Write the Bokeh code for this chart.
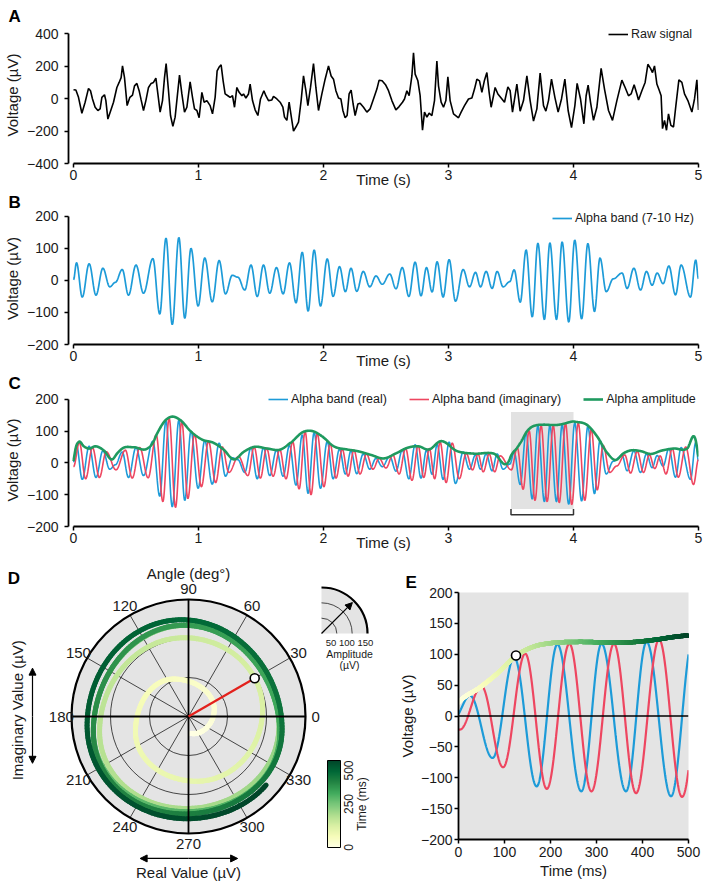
import numpy as np
from bokeh.plotting import figure
from bokeh.layouts import column, row
from bokeh.models import (Range1d, FixedTicker, Legend, LegendItem, Span, Title,
                          LinearColorMapper, Arrow, NormalHead, ColumnDataSource)
from bokeh.transform import linear_cmap
from bokeh.palettes import YlGn9
from bokeh.embed import file_html
from bokeh.resources import INLINE
from bokeh.core.properties import value

FONT = "Liberation Sans"
BLUE = "#1d9bd8"
RED = "#ee4660"
GREEN = "#1f9a5f"
GRAY = "#e4e4e4"
INK = "#1a1a1a"

# ---------------- data ----------------
time_ticks = [0, 1, 2, 3, 4, 5]
raw_ticks = [-400, -200, 0, 200, 400]
band_ticks = [-200, -100, 0, 100, 200]
zoom_ticks_ms = [0, 100, 200, 300, 400, 500]
zoom_ticks_uv = [-200, -150, -100, -50, 0, 50, 100, 150, 200]
zoom_window = [3.5, 4.0]          # seconds, highlighted in C and shown in D/E

raw_t = [0.0, 0.019, 0.04, 0.067, 0.093, 0.12, 0.136, 0.152, 0.173, 0.195, 0.213, 0.227, 0.248, 0.259,
         0.275, 0.296, 0.32, 0.347, 0.365, 0.381, 0.392, 0.408, 0.429, 0.451, 0.472, 0.488, 0.507,
         0.525, 0.541, 0.56, 0.579, 0.6, 0.621, 0.64, 0.659, 0.675, 0.693, 0.712, 0.728, 0.741, 0.76,
         0.776, 0.795, 0.813, 0.835, 0.848, 0.867, 0.888, 0.907, 0.933, 0.952, 0.968, 0.987, 1.005,
         1.027, 1.045, 1.067, 1.093, 1.112, 1.133, 1.149, 1.165, 1.181, 1.197, 1.213, 1.235, 1.253,
         1.272, 1.288, 1.307, 1.325, 1.347, 1.36, 1.379, 1.4, 1.413, 1.432, 1.453, 1.475, 1.496,
         1.523, 1.539, 1.56, 1.587, 1.6, 1.627, 1.653, 1.675, 1.688, 1.707, 1.725, 1.741, 1.76,
         1.779, 1.8, 1.821, 1.84, 1.859, 1.875, 1.896, 1.92, 1.939, 1.96, 1.987, 2.013, 2.04, 2.061,
         2.08, 2.099, 2.12, 2.139, 2.155, 2.173, 2.189, 2.205, 2.221, 2.237, 2.253, 2.275, 2.293,
         2.32, 2.347, 2.373, 2.4, 2.427, 2.445, 2.469, 2.496, 2.52, 2.547, 2.579, 2.605, 2.632,
         2.648, 2.667, 2.685, 2.707, 2.72, 2.733, 2.755, 2.773, 2.792, 2.808, 2.827, 2.845, 2.867,
         2.888, 2.907, 2.92, 2.941, 2.96, 2.979, 2.995, 3.013, 3.04, 3.08, 3.101, 3.128, 3.16,
         3.187, 3.208, 3.227, 3.248, 3.267, 3.288, 3.307, 3.325, 3.341, 3.36, 3.373, 3.395, 3.421,
         3.448, 3.475, 3.493, 3.512, 3.547, 3.573, 3.6, 3.627, 3.653, 3.68, 3.707, 3.733, 3.76,
         3.779, 3.8, 3.824, 3.851, 3.877, 3.904, 3.931, 3.957, 3.984, 4.011, 4.029, 4.056, 4.083,
         4.101, 4.117, 4.136, 4.16, 4.187, 4.221, 4.248, 4.28, 4.312, 4.347, 4.387, 4.413, 4.44,
         4.461, 4.485, 4.507, 4.52, 4.547, 4.573, 4.595, 4.616, 4.632, 4.648, 4.667, 4.685, 4.701,
         4.712, 4.728, 4.744, 4.76, 4.779, 4.8, 4.819, 4.843, 4.867, 4.888, 4.915, 4.947, 4.968,
         4.987, 5.0]
raw_v = [55, 53, 8, -90, -22, 63, 49, -2, -53, -73, -63, 8, 24, -12,
         -126, -77, -22, 69, 100, 130, 202, 130, -43, 8, 22, 79, 94,
         49, -8, -73, -12, 69, 94, 100, 126, 29, -83, -12, 130, 216, 49,
         -104, -171, -114, 49, 145, 29, -83, -53, 104, 8, -63, -73, -118,
         39, -22, -12, -43, -94, 8, 171, 195, 208, 110, 29, 18, 8,
         18, -53, 69, 39, 18, 29, 4, 29, 90, -12, -69, -104, -2,
         49, 18, -12, -8, 14, -2, -22, -53, -114, -134, -22, -104, -200,
         -175, -145, -12, 140, 49, -43, 69, 216, 69, -73, 29, 120, 202, 140,
         120, 49, 4, -2, -73, -118, -104, 29, 53, -33, -104, -33, -28,
         -53, -83, -63, -2, 59, 114, 110, 86, 49, -12, -69, -49, -22,
         -2, 49, 18, 140, 283, 151, 110, 18, -195, -83, -114, -90, -104,
         -12, 232, 79, -22, -53, -12, 134, -12, -94, -118, -83, -43, -2,
         4, 59, 120, 110, 39, 114, 161, 39, -53, 18, 69, 29, 4,
         -22, 73, 49, -83, 90, -77, -12, 140, -12, -138, -63, 157, -43,
         -77, -12, 120, 8, -83, -2, 120, -73, -179, -43, 94, -2, -155,
         18, 83, -22, -134, -53, 187, 59, -73, -134, -12, 114, 69, 18,
         29, 86, 29, -8, 49, 100, 212, 187, 161, 202, 90, 53, 18,
         -185, -134, -195, -94, -165, -175, -43, 116, 100, 29, -12, -83, -2,
         116, -70]

# alpha band (real part): successive turning points of the blue trace
alpha_real_t = [0.0, 0.024, 0.07, 0.125, 0.18, 0.235, 0.29, 0.335, 0.39, 0.44, 0.5, 0.56, 0.635,
                0.69, 0.74, 0.79, 0.843, 0.89, 0.94, 0.997, 1.05, 1.11, 1.165, 1.216, 1.27, 1.315,
                1.37, 1.42, 1.47, 1.52, 1.57, 1.624, 1.677, 1.728, 1.78, 1.83, 1.877, 1.925, 1.976,
                2.03, 2.077, 2.128, 2.175, 2.22, 2.266, 2.318, 2.37, 2.42, 2.47, 2.53, 2.58, 2.63,
                2.683, 2.733, 2.78, 2.824, 2.869, 2.909, 2.957, 3.005, 3.056, 3.117, 3.168, 3.216,
                3.256, 3.301, 3.349, 3.389, 3.437, 3.49, 3.525, 3.574, 3.621, 3.67, 3.715, 3.767,
                3.811, 3.864, 3.909, 3.962, 4.01, 4.065, 4.115, 4.168, 4.212, 4.262, 4.318, 4.389,
                4.429, 4.483, 4.536, 4.584, 4.629, 4.669, 4.717, 4.763, 4.816, 4.861, 4.936, 4.978,
                5.0]
alpha_real_v = [2, 55, -52, 52, -46, 38, -20, -6, 34, -46, 48, -40, 68,
                -105, 132, -138, 134, -118, 100, -80, 70, -67, 62, -42, 16, 10,
                -30, 48, -50, 48, -40, 40, -42, 55, -70, 88, -96, 95, -80,
                67, -50, 43, -35, 38, -34, 28, -20, 14, -12, 20, -26, 40,
                -50, 57, -48, 40, -36, 58, -52, 65, -65, 34, -20, 25,
                -20, 28, -25, 28, -20, -4, 33, -68, 95, -114, 116, -122,
                117, -122, 120, -130, 126, -120, 115, -97, 70, -35, 5, 23,
                -25, 38, -30, 28, -15, 23, -10, 45, -45, 48, -52, 64,
                5]

# alpha band (imaginary part): successive turning points of the red trace
alpha_imag_t = [0.0, 0.047, 0.097, 0.152, 0.207, 0.262, 0.34, 0.415, 0.47, 0.53, 0.597, 0.662,
                0.715, 0.765, 0.816, 0.866, 0.915, 0.968, 1.023, 1.08, 1.137, 1.19, 1.243, 1.32,
                1.395, 1.445, 1.495, 1.545, 1.597, 1.65, 1.7, 1.754, 1.805, 1.853, 1.9, 1.95,
                2.003, 2.053, 2.1, 2.15, 2.197, 2.243, 2.292, 2.344, 2.395, 2.445, 2.5, 2.555,
                2.605, 2.657, 2.708, 2.757, 2.802, 2.847, 2.889, 2.933, 2.981, 3.03, 3.086, 3.142,
                3.192, 3.236, 3.278, 3.325, 3.369, 3.413, 3.503, 3.55, 3.597, 3.645, 3.692, 3.741,
                3.789, 3.838, 3.886, 3.936, 3.986, 4.038, 4.09, 4.142, 4.19, 4.237, 4.29, 4.345,
                4.41, 4.456, 4.51, 4.56, 4.607, 4.65, 4.693, 4.74, 4.79, 4.838, 4.898, 4.96, 5.0]
alpha_imag_v = [-12, 64, -50, 48, -46, 35, -22, 40, -48, 48, -47, 88,
                -122, 140, -140, 130, -112, 90, -75, 68, -62, 50, -30, 20,
                -40, 50, -48, 46, -42, 42, -50, 66, -82, 98, -100, 92,
                -75, 60, -48, 43, -42, 40, -35, 28, -20, 14, -16, 25,
                -35, 45, -55, 54, -46, 45, -50, 65, -62, 62, -50, 30,
                -22, 28, -28, 28, -28, 22, -22, 48, -83, 101, -118, 117,
                -122, 117, -125, 124, -131, 125, -118, 105, -85, 55, -30, -10,
                25, -32, 36, -30, 25, -18, 22, -35, 45, -45, 50, -68, 10]

# alpha amplitude (green envelope)
amp_t = [0.0, 0.02, 0.043, 0.083, 0.12, 0.176, 0.243, 0.31, 0.35, 0.39, 0.483, 0.59, 0.63, 0.67,
         0.736, 0.784, 0.856, 0.936, 1.03, 1.12, 1.2, 1.283, 1.363, 1.443, 1.55, 1.656, 1.736,
         1.843, 1.91, 1.99, 2.083, 2.19, 2.27, 2.38, 2.483, 2.58, 2.669, 2.76, 2.843, 2.936,
         3.069, 3.203, 3.363, 3.483, 3.5, 3.548, 3.583, 3.626, 3.666, 3.701, 3.757, 3.827, 3.862,
         3.933, 3.968, 4.0, 4.016, 4.109, 4.189, 4.269, 4.336, 4.4, 4.456, 4.536, 4.62, 4.7,
         4.803, 4.909, 4.976, 5.0]
amp_v = [6, 50, 66, 52, 45, 52, 39, 11, 30, 45, 49, 45, 60, 93,
         134, 145, 134, 100, 73, 63, 42, 11, 35, 50, 45, 42, 63,
         98, 100, 83, 52, 42, 37, 25, 14, 30, 47, 52, 42, 68,
         37, 29, 29, 6, 22, 47, 68, 98, 113, 118, 120, 119, 119,
         124, 128, 130, 129, 119, 83, 32, 9, 30, 39, 37, 28, 38,
         45, 45, 73, 20]

angle_ticks = [0, 30, 60, 90, 120, 150, 180, 210, 240, 270, 300, 330]
amp_grid = [50, 100]
amp_max = 150
key_amps = [50, 100, 150]
colorbar_ticks_ms = [0, 250, 500]
marker_ms = 125
marker_amp = 98
marker_angle = 30


# ---------------- curve rendering helpers ----------------
def turning_curve(T, V, t):
    """Smooth trace through successive turning points (half-cosine between them)."""
    T = np.asarray(T, float); V = np.asarray(V, float)
    i = np.clip(np.searchsorted(T, t, side="right") - 1, 0, len(T) - 2)
    u = np.clip((t - T[i]) / (T[i + 1] - T[i]), 0, 1)
    return V[i] + (V[i + 1] - V[i]) * (1 - np.cos(np.pi * u)) / 2


def smooth_curve(T, V, t):
    """Cubic Hermite curve through sampled points."""
    T = np.asarray(T, float); V = np.asarray(V, float)
    m = np.gradient(V, T)
    i = np.clip(np.searchsorted(T, t, side="right") - 1, 0, len(T) - 2)
    h = T[i + 1] - T[i]
    u = np.clip((t - T[i]) / h, 0, 1)
    h00 = 2 * u**3 - 3 * u**2 + 1
    h10 = u**3 - 2 * u**2 + u
    h01 = -2 * u**3 + 3 * u**2
    h11 = u**3 - u**2
    return h00 * V[i] + h10 * h * m[i] + h01 * V[i + 1] + h11 * h * m[i + 1]


def interp_palette(colors, n):
    rgb = np.array([[int(c[k:k + 2], 16) for k in (1, 3, 5)] for c in colors], float)
    pos = np.linspace(0, 1, len(colors))
    out = []
    for x in np.linspace(0, 1, n):
        out.append("#%02x%02x%02x" % tuple(int(round(np.interp(x, pos, rgb[:, k]))) for k in range(3)))
    return out


PAL = interp_palette(list(reversed(YlGn9)), 256)


def minus(v):
    return ("\u2212" + str(abs(v))) if v < 0 else str(v)


def style_axes(p, xticks, yticks, fs="14px"):
    p.xaxis.ticker = FixedTicker(ticks=xticks)
    p.yaxis.ticker = FixedTicker(ticks=yticks)
    p.xaxis.major_label_overrides = {v: minus(v) for v in xticks}
    p.yaxis.major_label_overrides = {v: minus(v) for v in yticks}
    for ax in (p.xaxis[0], p.yaxis[0]):
        ax.axis_line_width = 1.8
        ax.axis_line_color = "black"
        ax.major_tick_line_width = 1.5
        ax.major_tick_line_color = "black"
        ax.major_tick_out = 4
        ax.major_tick_in = 0
        ax.minor_tick_line_color = None
        ax.major_label_text_font = FONT
        ax.major_label_text_font_size = fs
        ax.major_label_text_color = INK
        ax.axis_label_text_font = FONT
        ax.axis_label_text_font_style = "normal"
        ax.axis_label_text_font_size = "15px"
        ax.axis_label_text_color = INK
    p.grid.visible = False
    p.outline_line_color = None


def letter_title(p, text, offset):
    p.add_layout(Title(text=text, align="left", offset=offset, standoff=1, text_font=FONT,
                       text_font_size="17px", text_font_style="bold", text_color="black"),
                 "above")


def ts_figure(height, btop, bbottom, yr, ybounds, yticks):
    p = figure(width=705, height=height, x_range=Range1d(-0.04, 5), y_range=Range1d(*yr),
               min_border_left=68, min_border_right=7, min_border_top=btop,
               min_border_bottom=bbottom, toolbar_location=None, output_backend="svg")
    p.frame_align = False
    style_axes(p, time_ticks, yticks)
    p.xaxis.bounds = (0, 5)
    p.yaxis.bounds = ybounds
    p.xaxis.major_label_standoff = 2
    p.yaxis.major_label_standoff = 6
    p.yaxis.axis_label = "Voltage (µV)"
    p.yaxis.axis_label_standoff = 3
    p.xaxis.axis_label = "Time (s)"
    p.xaxis.axis_label_standoff = -12
    return p


def make_legend(p, items, loc, spacing=0, horizontal=False):
    lg = Legend(items=[LegendItem(label=l, renderers=[r]) for l, r in items], location=loc,
                orientation="horizontal" if horizontal else "vertical",
                background_fill_alpha=0, border_line_alpha=0, padding=0, margin=0,
                spacing=spacing, glyph_width=20, glyph_height=14, label_height=14,
                label_standoff=3, label_text_font=FONT, label_text_font_size="12.5px",
                label_text_color=INK, label_text_baseline="middle")
    p.add_layout(lg)


t_dense = np.linspace(0, 5, 2001)
real_dense = turning_curve(alpha_real_t, alpha_real_v, t_dense)
imag_dense = turning_curve(alpha_imag_t, alpha_imag_v, t_dense)
amp_dense = smooth_curve(amp_t, amp_v, t_dense)

# ---------------- A ----------------
pa = ts_figure(190, 26, 26, (-400, 445), (-400, 400), raw_ticks)
letter_title(pa, "A", -60)
r_raw = pa.line(raw_t, raw_v, line_color="black", line_width=1.6)
make_legend(pa, [("Raw signal", r_raw)], (540, 122))

# ---------------- B ----------------
pb = ts_figure(181, 20, 26, (-200, 212), (-200, 200), band_ticks)
letter_title(pb, "B", -60)
r_b = pb.line(t_dense, real_dense, line_color=BLUE, line_width=1.7)
make_legend(pb, [("Alpha band (7-10 Hz)", r_b)], (484, 119))

# ---------------- C ----------------
pc = ts_figure(182, 20, 26, (-200, 218), (-200, 200), band_ticks)
letter_title(pc, "C", -60)
pc.quad(left=[zoom_window[0]], right=[zoom_window[1]], bottom=[-145], top=[160],
        fill_color="#e2e2e2", line_color=None)
pc.line([zoom_window[0], zoom_window[0], zoom_window[1], zoom_window[1]], [-145, -163, -163, -145],
        line_color="#333333", line_width=1.5)
r_c1 = pc.line(t_dense, real_dense, line_color=BLUE, line_width=1.6)
r_c2 = pc.line(t_dense, imag_dense, line_color=RED, line_width=1.6)
r_c3 = pc.line(t_dense, amp_dense, line_color=GREEN, line_width=2.6)
make_legend(pc, [("Alpha band (real)", r_c1), ("Alpha band (imaginary)", r_c2),
                 ("Alpha amplitude", r_c3)], (200, 120), spacing=22, horizontal=True)

# ---------------- zoomed window data ----------------
ms = np.linspace(0, 500, 1001)
tw = zoom_window[0] + ms / 1000.0
real_w = turning_curve(alpha_real_t, alpha_real_v, tw)
imag_w = turning_curve(alpha_imag_t, alpha_imag_v, tw)
amp_w = smooth_curve(amp_t, amp_v, tw)
seg_ms = 0.5 * (ms[:-1] + ms[1:])
cmap = linear_cmap("c", PAL, 0, 500)

# ---------------- D (polar) ----------------
S = 0.78                       # px per µV
CX, CY = 188, 716              # page position of polar centre
FL, FT, FW, FH = 0, 553, 395, 329
pd_ = figure(width=FW, height=FH, x_range=Range1d((FL - CX) / S, (FL + FW - CX) / S),
             y_range=Range1d((CY - (FT + FH)) / S, (CY - FT) / S), min_border=0,
             toolbar_location=None, output_backend="svg")
pd_.frame_align = False
pd_.axis.visible = False
pd_.grid.visible = False
pd_.outline_line_color = None

pd_.circle(x=[0], y=[0], radius=[amp_max], fill_color=GRAY, line_color=None)
pd_.circle(x=[0] * len(amp_grid), y=[0] * len(amp_grid), radius=amp_grid, fill_color=None,
           line_color="black", line_width=0.7)
ang = np.deg2rad([a for a in angle_ticks if a % 90 != 0])
pd_.segment(x0=np.zeros(len(ang)), y0=np.zeros(len(ang)), x1=amp_max * np.cos(ang),
            y1=amp_max * np.sin(ang), line_color="black", line_width=0.7)

src_d = ColumnDataSource(dict(xs=[[real_w[i], real_w[i + 1]] for i in range(len(ms) - 1)],
                              ys=[[imag_w[i], imag_w[i + 1]] for i in range(len(ms) - 1)],
                              c=seg_ms))
pd_.multi_line(xs="xs", ys="ys", source=src_d, line_color=cmap, line_width=5, line_cap="round")

ax4 = np.deg2rad([0, 90])
pd_.segment(x0=-amp_max * np.cos(ax4), y0=-amp_max * np.sin(ax4), x1=amp_max * np.cos(ax4),
            y1=amp_max * np.sin(ax4), line_color="black", line_width=1.8)
pd_.circle(x=[0], y=[0], radius=[amp_max], fill_color=None, line_color="black", line_width=2.2)

mk = np.deg2rad(marker_angle)
pd_.line([0, marker_amp * np.cos(mk)], [0, marker_amp * np.sin(mk)], line_color="#e3211c",
         line_width=2.2)
pd_.scatter([marker_amp * np.cos(mk)], [marker_amp * np.sin(mk)], size=9, fill_color="white",
            line_color="black", line_width=1.6)


def dtext(x, y, t, size="15px", **kw):
    pd_.text(x=x, y=y, text=t, text_font=value(FONT), text_font_size=size,
             text_baseline="middle", text_color=INK, **kw)


ta = np.deg2rad(angle_ticks)
dtext(163 * np.cos(ta), 163 * np.sin(ta), [str(a) for a in angle_ticks], text_align="center")
dtext([0], [183], ["Angle (deg°)"], text_align="center")
pd_.text(x=[-224], y=[177], text=["D"], text_font=value(FONT), text_font_size="17px",
         text_font_style="bold", text_align="center", text_baseline="middle", text_color="black")
dtext([-219], [8], ["Imaginary Value (µV)"], text_align="center", angle=np.pi / 2)
dtext([0], [-200], ["Real Value (µV)"], text_align="center")
for (xs_, ys_, xe, ye) in [(-200, 0, -200, 62), (-200, 0, -200, -60), (0, -182, -62, -182),
                           (0, -182, 63, -182)]:
    pd_.add_layout(Arrow(end=NormalHead(size=7, fill_color="black", line_color="black"),
                         x_start=xs_, y_start=ys_, x_end=xe, y_end=ye, line_width=1.2))

# amplitude key
KX, KY = (321 - CX) / S, (CY - 633) / S
KS = 46.0 / amp_max / S
pd_.wedge(x=[KX], y=[KY], radius=[amp_max * KS], start_angle=0, end_angle=np.pi / 2,
          fill_color=GRAY, line_color=None)
pd_.arc(x=[KX] * 2, y=[KY] * 2, radius=[a * KS for a in key_amps[:-1]], start_angle=0,
        end_angle=np.pi / 2, line_color="black", line_width=0.7)
pd_.arc(x=[KX], y=[KY], radius=[amp_max * KS], start_angle=0, end_angle=np.pi / 2,
        line_color="black", line_width=2.2)
pd_.add_layout(Arrow(end=NormalHead(size=7, fill_color="black", line_color="black"),
                     x_start=KX, y_start=KY, x_end=KX + 0.95 * amp_max * KS * np.cos(np.pi / 4),
                     y_end=KY + 0.95 * amp_max * KS * np.sin(np.pi / 4), line_width=1.2))
dtext([KX + 28 / S], [KY - 9 / S], [" ".join(str(a) for a in key_amps)],
      size="9.5px", text_align="center")
dtext([KX + 28 / S, KX + 28 / S], [KY - 20 / S, KY - 31 / S], ["Amplitude", "(µV)"],
      size="10.5px", text_align="center")

# colour bar for time
CBX, CBW = (327 - CX) / S, 13 / S
CBY0, CBH = (CY - 847) / S, 87 / S
mapper = LinearColorMapper(palette=PAL, low=0, high=500)
pd_.image(image=[np.linspace(0, 500, 256).reshape(-1, 1)], x=CBX, y=CBY0, dw=CBW, dh=CBH,
          color_mapper=mapper)
pd_.quad(left=[CBX], right=[CBX + CBW], bottom=[CBY0], top=[CBY0 + CBH], fill_color=None,
         line_color="black", line_width=1)
cb_y = [CBY0 + CBH * v / 500.0 for v in colorbar_ticks_ms]
dtext([CBX + CBW + 8 / S] * 3, cb_y, [str(v) for v in colorbar_ticks_ms], size="12px",
      text_align=["center", "center", "right"], angle=np.pi / 2)
dtext([CBX + CBW + 21 / S], [CBY0 + CBH / 2], ["Time (ms)"], size="12px", text_align="center",
      angle=np.pi / 2)

# ---------------- E ----------------
pe = figure(width=310, height=329, x_range=Range1d(0, 500), y_range=Range1d(-200, 200),
            min_border_left=56, min_border_right=17, min_border_top=39, min_border_bottom=43,
            background_fill_color=GRAY, toolbar_location=None, output_backend="svg")
pe.frame_align = False
style_axes(pe, zoom_ticks_ms, zoom_ticks_uv)
pe.xaxis.major_label_standoff = 3
pe.yaxis.major_label_standoff = 2
pe.yaxis.axis_label = "Voltage (µV)"
pe.yaxis.axis_label_standoff = 2
pe.xaxis.axis_label = "Time (ms)"
pe.xaxis.axis_label_standoff = 2
letter_title(pe, "E", -53)
pe.add_layout(Span(location=0, dimension="width", line_color="black", line_width=1.5))
pe.line(ms, real_w, line_color=BLUE, line_width=2.2)
pe.line(ms, imag_w, line_color=RED, line_width=2.2)
src_e = ColumnDataSource(dict(xs=[[ms[i], ms[i + 1]] for i in range(len(ms) - 1)],
                              ys=[[amp_w[i], amp_w[i + 1]] for i in range(len(ms) - 1)],
                              c=seg_ms))
pe.multi_line(xs="xs", ys="ys", source=src_e, line_color=cmap, line_width=4.5, line_cap="round")
pe.scatter([marker_ms], [marker_amp], size=9, fill_color="white", line_color="black",
           line_width=1.6)

layout = column(pa, pb, pc, row(pd_, pe))
open("out.html", "w").write(file_html(layout, INLINE))
